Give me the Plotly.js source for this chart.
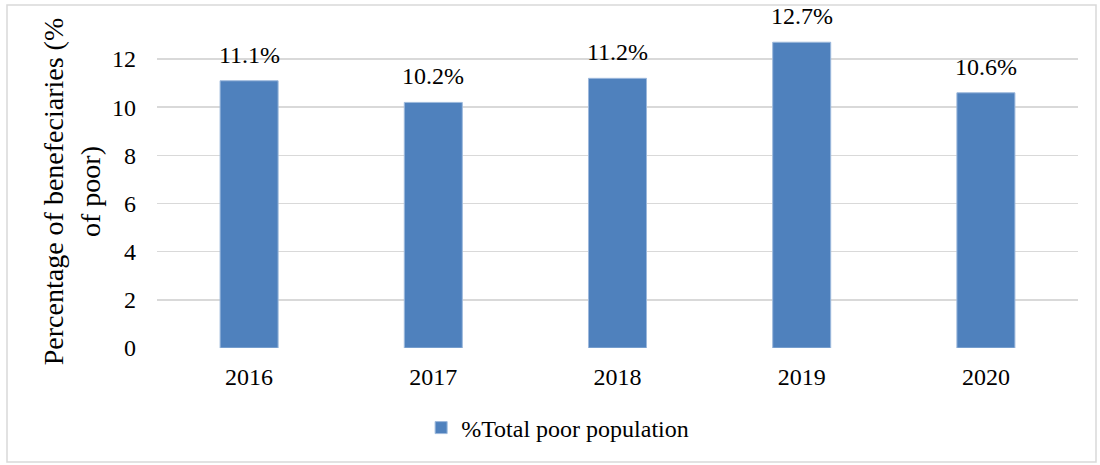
<!DOCTYPE html>
<html>
<head>
<meta charset="utf-8">
<script src="https://cdn.plot.ly/plotly-3.0.1.min.js"></script>
<style>html,body{margin:0;padding:0;background:#fff;}#chart{width:1100px;height:465px;}</style>
</head>
<body>
<div id="chart"></div>
<script>
const years = ['2016', '2017', '2018', '2019', '2020'];
const totalPoorPct = [11.1, 10.2, 11.2, 12.7, 10.6];
const seriesName = '%Total poor population';
const yTicks = [0, 2, 4, 6, 8, 10, 12];

const font = 'Liberation Serif';
const L = 157, R = 22, T = 35, B = 117, W = 1100, H = 465;
const pw = W - L - R, ph = H - T - B;
const px2x = p => (p - L) / pw;
const px2y = p => (H - B - p) / ph;

const trace = {
  type: 'bar',
  x: years,
  y: totalPoorPct,
  name: seriesName,
  marker: {color: '#4f81bd', line: {color: '#9db9dc', width: 1}},
  hoverinfo: 'x+y'
};

const labels = years.map((yr, i) => ({
  x: i, y: totalPoorPct[i], xref: 'x', yref: 'y',
  text: totalPoorPct[i].toFixed(1) + '%',
  showarrow: false, yanchor: 'bottom', yshift: 11,
  font: {family: font, size: 24, color: '#000'}
}));

const layout = {
  width: W, height: H,
  margin: {l: L, r: R, t: T, b: B},
  paper_bgcolor: '#fff', plot_bgcolor: '#fff',
  font: {family: font, color: '#000', size: 24},
  bargap: 0.685,
  showlegend: true,
  legend: {orientation: 'h', x: 0.435, xanchor: 'center', y: px2y(428), yanchor: 'middle',
           font: {family: font, size: 24, color: '#000'}, itemwidth: 20},
  xaxis: {type: 'category', range: [-0.5, years.length - 0.5], showgrid: false, zeroline: false, showline: false,
          ticks: '', tickfont: {family: font, size: 24}, ticklabelstandoff: 12},
  yaxis: {range: [0, 13], tickvals: yTicks, showgrid: true, gridcolor: '#d9d9d9', gridwidth: 1.5,
          zeroline: false, showline: false, ticks: '', tickfont: {family: font, size: 24},
          ticklabelstandoff: 20,
          title: {text: 'Percentage of benefeciaries (%<br>of poor)', font: {family: font, size: 28}, standoff: 3}},
  annotations: labels,
  shapes: [{type: 'rect', xref: 'paper', yref: 'paper',
            x0: px2x(7), x1: px2x(1096), y0: px2y(462), y1: px2y(5),
            line: {color: '#d9d9d9', width: 1.5}, fillcolor: 'rgba(0,0,0,0)', layer: 'below'}]
};

Plotly.newPlot('chart', [trace], layout, {displayModeBar: false, staticPlot: true});
</script>
</body>
</html>
